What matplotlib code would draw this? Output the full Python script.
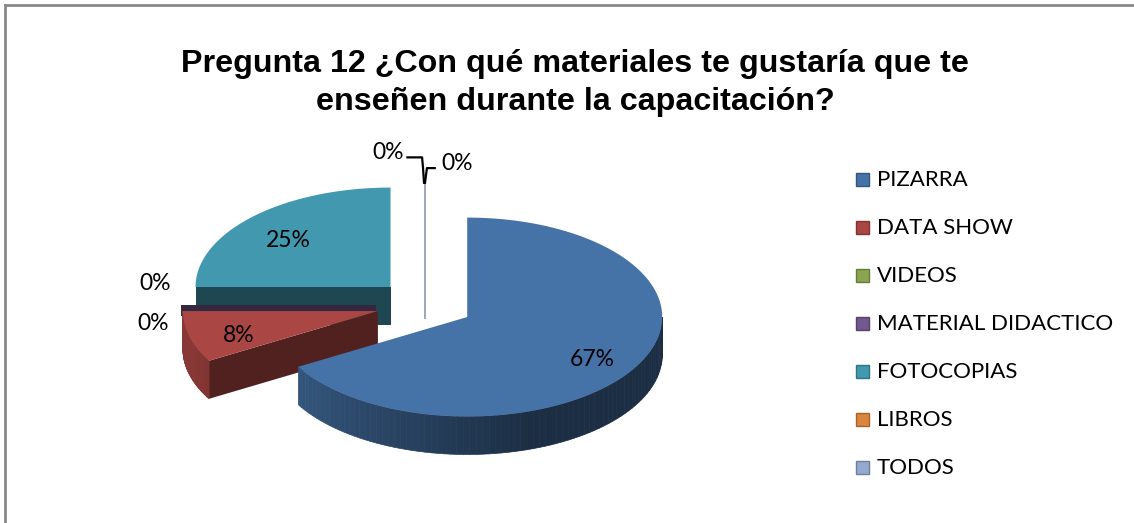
import numpy as np
import matplotlib.pyplot as plt
import matplotlib.colors as mcolors
from matplotlib.patches import Polygon, Rectangle
from matplotlib.lines import Line2D

# data
categories = ['PIZARRA', 'DATA SHOW', 'VIDEOS', 'MATERIAL DIDACTICO',
              'FOTOCOPIAS', 'LIBROS', 'TODOS']
counts = [8, 1, 0, 0, 3, 0, 0]
colors = ['#4572A7', '#AA4643', '#89A54E', '#71588F', '#4198AF', '#DB843D', '#93A9CF']

# 3d look
squash = 0.51      # vertical flattening of the ellipse
depth = 0.195      # thickness of the pie
explode = 0.25     # how far each slice is pulled out
px = 195.0         # pixels per pie radius

W, H = 1134, 523
cx_px, cy_px = 425, 523 - 304.6

fig = plt.figure(figsize=(W / 100, H / 100), dpi=100)
ax = fig.add_axes([0, 0, 1, 1])
ax.set_xlim(-cx_px / px, (W - cx_px) / px)
ax.set_ylim(-cy_px / px, (H - cy_px) / px)
ax.axis('off')


def shade(c, f):
    r, g, b = mcolors.to_rgb(c)
    return (r * f, g * f, b * f)


def pt(ox, oy, ang, r=1.0, z=0.0):
    a = np.radians(ang)
    return ox + r * np.cos(a), oy + squash * r * np.sin(a) - z


total = sum(counts)
fracs = [c / total for c in counts]

# slices run clockwise from 12 o'clock
slices = []
start = 90.0
for name, f, col in zip(categories, fracs, colors):
    end = start - 360 * f
    t1, t2 = end, start   # counter-clockwise span [t1, t2]
    mid = np.radians((t1 + t2) / 2)
    ox = explode * np.cos(mid)
    oy = explode * squash * np.sin(mid)
    slices.append((name, f, col, t1, t2, ox, oy))
    start = end

# back to front
order = sorted(range(len(slices)), key=lambda i: -slices[i][6])
for rank, i in enumerate(order):
    name, f, col, t1, t2, ox, oy = slices[i]
    z = 10 + rank * 3
    if f == 0:
        # zero slice: just the radial wall
        if abs(np.cos(np.radians(t1))) < 1e-6:
            x0, y0 = pt(ox, oy, t1, 0)
            x1, y1 = pt(ox, oy, t1, 1)
            ax.plot([x0, x1], [y0 - depth, y1], color=col, lw=1.2, zorder=z)
        else:
            a = pt(ox, oy, t1, 0)
            b = pt(ox, oy, t1, 1)
            quad = [a, b, (b[0], b[1] - depth * 0.3), (a[0], a[1] - depth * 0.3)]
            ax.add_patch(Polygon(quad, closed=True, fc=shade(col, 0.45), ec='none', zorder=z))
        continue
    # radial walls facing the viewer
    for ang, vis in ((t1, np.cos(np.radians(t1)) > 1e-6), (t2, np.cos(np.radians(t2)) < -1e-6)):
        if vis:
            a = pt(ox, oy, ang, 0)
            b = pt(ox, oy, ang, 1)
            quad = [a, b, (b[0], b[1] - depth), (a[0], a[1] - depth)]
            ax.add_patch(Polygon(quad, closed=True, fc=shade(col, 0.47), ec='none', zorder=z))
    # curved front wall with a left-to-right gradient
    lo, hi = max(t1, -180.0), min(t2, 0.0)
    if t1 >= 180:
        lo, hi = t1, min(t2, 360.0)
    if hi > lo:
        angs = np.linspace(lo, hi, 80)
        for a0, a1 in zip(angs[:-1], angs[1:]):
            am = ((a0 + a1) / 2) % 360
            k = 0.8 - 0.4 * np.clip((am - 200) / 90, 0, 1)
            p0 = pt(ox, oy, a0)
            p1 = pt(ox, oy, a1)
            quad = [p0, p1, (p1[0], p1[1] - depth), (p0[0], p0[1] - depth)]
            ax.add_patch(Polygon(quad, closed=True, fc=shade(col, k), ec=shade(col, k),
                                 lw=0.5, zorder=z + 1))
    # top face
    angs = np.linspace(t1, t2, 120)
    top = [pt(ox, oy, 0, 0)] + [pt(ox, oy, a) for a in angs]
    ax.add_patch(Polygon(top, closed=True, fc=col, ec='none', zorder=z + 2))

# data labels
lab_font = dict(fontsize=16.5, family='Lato', color='black', zorder=50)
for i, (name, f, col, t1, t2, ox, oy) in enumerate(slices):
    txt = '{:.0%}'.format(f)
    if f > 0:
        lx, ly = pt(ox, oy, (t1 + t2) / 2, 0.74)
        ax.text(lx, ly - 0.03, txt, ha='center', va='center', **lab_font)

# zero labels (placed around the edge like excel does)
zero_pos = {'VIDEOS': (-1.385, 0.11), 'MATERIAL DIDACTICO': (-1.395, -0.095),
            'LIBROS': (-0.19, 0.78), 'TODOS': (0.165, 0.725)}
for name, (lx, ly) in zero_pos.items():
    ax.text(lx, ly, '0%', ha='center', va='center', **lab_font)
# leader lines to the 12 o'clock zero slices
ax.plot([-0.09, -0.015, -0.01, -0.005], [0.755, 0.755, 0.7, 0.625], color='black', lw=1.6, zorder=50)
ax.plot([0.0, 0.01, 0.05], [0.625, 0.7, 0.7], color='black', lw=1.6, zorder=50)

# legend
leg_y = np.linspace(180, 468, len(categories))
for name, col, yy in zip(categories, colors, leg_y):
    fig.patches.append(Rectangle(((856) / W, 1 - (yy + 6) / H), 13 / W, 13 / H,
                                 transform=fig.transFigure, fc=col,
                                 ec=shade(col, 0.75), lw=1))
    fig.text(877 / W, 1 - yy / H, name, ha='left', va='center',
             fontsize=16, family='Lato')

# title
fig.text(0.507, 1 - 83 / H,
         'Pregunta 12 ¿Con qué materiales te gustaría que te\nenseñen durante la capacitación?',
         ha='center', va='center', fontsize=23.2, fontweight='bold',
         family='Liberation Sans', linespacing=1.35)

# chart border: top and left edges, drawn as separate lines
fig.lines.append(Line2D([5 / W, 5 / W], [0.0, 1 - 5 / H],
                        transform=fig.transFigure, color='#8a8a8a', lw=2))
fig.lines.append(Line2D([5 / W, 1.0], [1 - 5 / H, 1 - 5 / H],
                        transform=fig.transFigure, color='#8a8a8a', lw=2))

fig.savefig('out.png', dpi=100)
